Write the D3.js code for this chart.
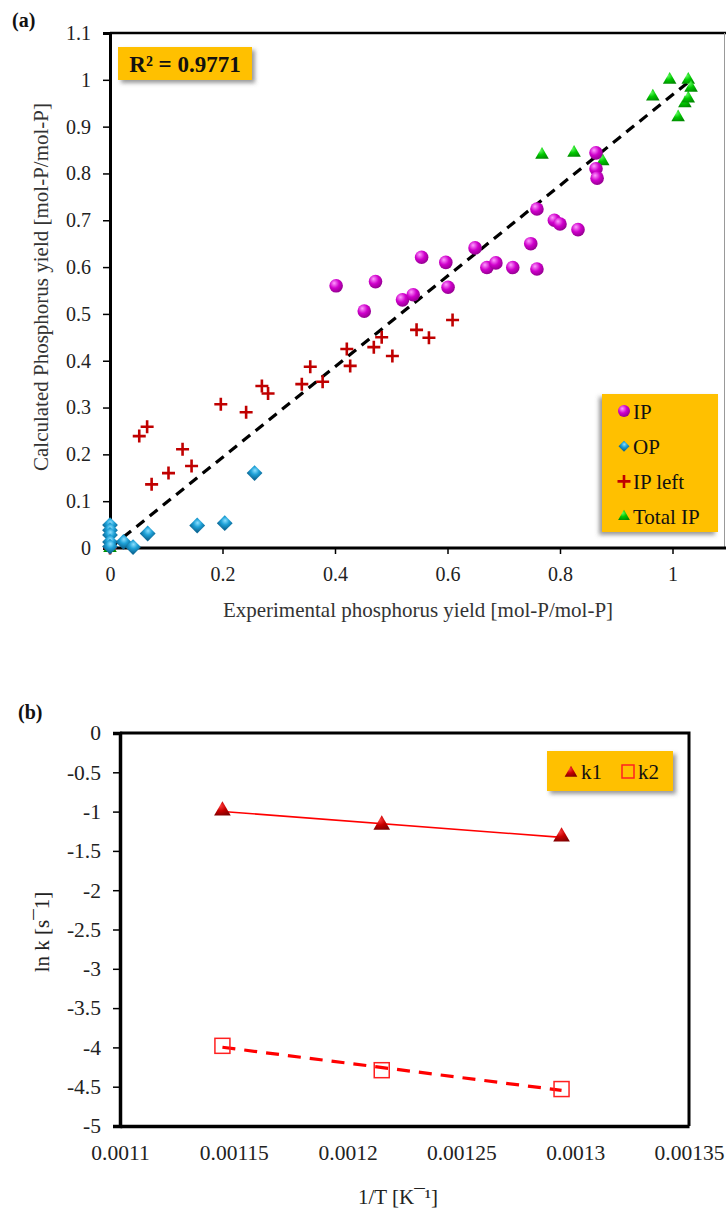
<!DOCTYPE html>
<html>
<head>
<meta charset="utf-8">
<script src="https://cdn.jsdelivr.net/npm/d3@7"></script>
<style>
  body { margin: 0; background: #fff; }
  svg { display: block; font-family: "Liberation Serif", "Times New Roman", serif; }
  .tick text { fill: #222; }
</style>
</head>
<body>
<div id="chart"></div>
<script>
// ---- chart (a) data ----
var ipX   = [0.402, 0.452, 0.472, 0.520, 0.539, 0.554, 0.597, 0.601, 0.649, 0.670, 0.686, 0.716, 0.748, 0.759, 0.759, 0.790, 0.800, 0.832, 0.864, 0.864, 0.866];
var ipY   = [0.560, 0.506, 0.569, 0.530, 0.541, 0.621, 0.610, 0.557, 0.641, 0.599, 0.609, 0.599, 0.650, 0.724, 0.596, 0.700, 0.692, 0.680, 0.844, 0.810, 0.790];
var opX   = [0, 0, 0, 0, 0, 0.024, 0.041, 0.067, 0.155, 0.204, 0.257];
var opY   = [0.049, 0.038, 0.028, 0.013, 0.003, 0.013, 0.002, 0.031, 0.048, 0.053, 0.160];
var leftX = [0, 0.052, 0.066, 0.074, 0.104, 0.129, 0.145, 0.197, 0.242, 0.270, 0.281, 0.341, 0.356, 0.378, 0.421, 0.427, 0.469, 0.483, 0.502, 0.545, 0.567, 0.609];
var leftY = [0, 0.239, 0.259, 0.136, 0.160, 0.211, 0.175, 0.307, 0.290, 0.346, 0.330, 0.350, 0.387, 0.355, 0.425, 0.389, 0.429, 0.450, 0.410, 0.466, 0.449, 0.487];
var totX  = [0, 0.768, 0.825, 0.876, 0.965, 0.995, 1.010, 1.022, 1.028, 1.028, 1.033];
var totY  = [0, 0.840, 0.844, 0.826, 0.964, 1.000, 0.920, 0.950, 1.000, 0.960, 0.983];
var fitX  = [0, 1.028];
var fitY  = [0, 0.995];
var xTicksA = [0, 0.2, 0.4, 0.6, 0.8, 1];
var yTicksA = [0, 0.1, 0.2, 0.3, 0.4, 0.5, 0.6, 0.7, 0.8, 0.9, 1, 1.1];
var legendA = ["IP", "OP", "IP left", "Total IP"];

// ---- chart (b) data ----
var invT = [0.001145, 0.001215, 0.001294];
var k1   = [-0.99, -1.17, -1.32];
var k2   = [-3.98, -4.29, -4.53];
var xTicksB = [0.0011, 0.00115, 0.0012, 0.00125, 0.0013, 0.00135];
var yTicksB = [0, -0.5, -1, -1.5, -2, -2.5, -3, -3.5, -4, -4.5, -5];

var width = 726, height = 1211;
var svg = d3.select('#chart').append('svg')
    .attr('width', width)
    .attr('height', height);

var defs = svg.append('defs');
var shadow = defs.append('filter').attr('id', 'shadow')
    .attr('x', '-20%').attr('y', '-20%').attr('width', '140%').attr('height', '150%');
shadow.append('feDropShadow').attr('dx', 3).attr('dy', 3).attr('stdDeviation', 2)
    .attr('flood-color', '#555').attr('flood-opacity', 0.6);
var shadowL = defs.append('filter').attr('id', 'shadowL')
    .attr('x', '-20%').attr('y', '-20%').attr('width', '140%').attr('height', '150%');
shadowL.append('feDropShadow').attr('dx', -3).attr('dy', 3).attr('stdDeviation', 2)
    .attr('flood-color', '#555').attr('flood-opacity', 0.6);

function radial(id, c0, c1, c2) {
    var g = defs.append('radialGradient').attr('id', id)
        .attr('cx', '40%').attr('cy', '35%').attr('r', '70%').attr('fx', '35%').attr('fy', '30%');
    g.append('stop').attr('offset', '0%').attr('stop-color', c0);
    g.append('stop').attr('offset', '50%').attr('stop-color', c1);
    g.append('stop').attr('offset', '100%').attr('stop-color', c2);
}
radial('gIP', '#ff9cff', '#d000cc', '#8c0088');
radial('gOP', '#8fe0ff', '#1fa2d8', '#0d6a98');
radial('gTot', '#66ff66', '#00c800', '#008a00');
radial('gK1', '#ff4040', '#c80000', '#800000');

var font = '"Liberation Serif", "Times New Roman", serif';

// ================= chart (a) =================
var xA = d3.scaleLinear().domain([0, 1.1]).range([110, 728.75]);
var yA = d3.scaleLinear().domain([0, 1.1]).range([548, 33]);

function zip(xs, ys) { return xs.map(function(d, i){ return [d, ys[i]]; }); }

// frame: top thick, right thin
svg.append('line').attr('x1', xA(0)).attr('x2', width).attr('y1', yA(1.1)).attr('y2', yA(1.1))
    .attr('stroke', '#000').attr('stroke-width', 2.5);
svg.append('line').attr('x1', width - 1.5).attr('x2', width - 1.5).attr('y1', yA(1.1)).attr('y2', yA(0))
    .attr('stroke', '#999').attr('stroke-width', 1);

var axA_x = svg.append('g').attr('transform', 'translate(0,' + yA(0) + ')')
    .call(d3.axisBottom(xA).tickValues(xTicksA).tickFormat(String).tickSizeOuter(0).tickSize(6).tickPadding(13));
var axA_y = svg.append('g').attr('transform', 'translate(' + xA(0) + ',0)')
    .call(d3.axisLeft(yA).tickValues(yTicksA).tickFormat(String).tickSizeOuter(0).tickSize(7).tickPadding(12));
[axA_x, axA_y].forEach(function(g){
    g.select('.domain').attr('stroke', '#000').attr('stroke-width', 3);
    g.selectAll('.tick line').attr('stroke', '#000').attr('stroke-width', 1.5);
    g.selectAll('.tick text').style('font-size', '20px').style('font-family', font);
});
axA_x.select('.domain').attr('d', 'M' + xA(0) + ',0H' + width);

// regression line
svg.append('path')
    .datum(zip(fitX, fitY))
    .attr('d', d3.line().x(function(d){ return xA(d[0]); }).y(function(d){ return yA(d[1]); }))
    .attr('fill', 'none').attr('stroke', '#000').attr('stroke-width', 3.2)
    .attr('stroke-dasharray', '10,7');

// Total IP triangles
svg.append('g').selectAll('path')
    .data(zip(totX, totY)).enter().append('path')
    .attr('d', d3.symbol().type(d3.symbolTriangle).size(80))
    .attr('transform', function(d){ return 'translate(' + xA(d[0]) + ',' + yA(d[1]) + ')'; })
    .attr('fill', 'url(#gTot)');

// IP left crosses
svg.append('g').selectAll('path')
    .data(zip(leftX, leftY)).enter().append('path')
    .attr('d', 'M-6.5,0H6.5M0,-6.5V6.5')
    .attr('transform', function(d){ return 'translate(' + xA(d[0]) + ',' + yA(d[1]) + ')'; })
    .attr('stroke', '#c00000').attr('stroke-width', 2.6).attr('fill', 'none');

// OP diamonds
svg.append('g').selectAll('path')
    .data(zip(opX, opY)).enter().append('path')
    .attr('d', d3.symbol().type(d3.symbolSquare).size(125))
    .attr('transform', function(d){ return 'translate(' + xA(d[0]) + ',' + yA(d[1]) + ') rotate(45)'; })
    .attr('fill', 'url(#gOP)');

// IP spheres
svg.append('g').selectAll('circle')
    .data(zip(ipX, ipY)).enter().append('circle')
    .attr('cx', function(d){ return xA(d[0]); })
    .attr('cy', function(d){ return yA(d[1]); })
    .attr('r', 6.8)
    .attr('fill', 'url(#gIP)');

// R² box
svg.append('rect').attr('x', 118).attr('y', 47).attr('width', 134).attr('height', 33)
    .attr('fill', '#ffc000').attr('filter', 'url(#shadow)');
svg.append('text').attr('x', 185).attr('y', 72)
    .style('text-anchor', 'middle').style('font-size', '23px').style('font-weight', 'bold')
    .attr('fill', '#111').text('R² = 0.9771');

// legend (a)
var legA = svg.append('g');
legA.append('rect').attr('x', 602).attr('y', 394).attr('width', 116).attr('height', 138)
    .attr('fill', '#ffc000').attr('filter', 'url(#shadowL)');
var rowsA = legA.selectAll('g.row').data(legendA).enter().append('g')
    .attr('transform', function(d, i){ return 'translate(624,' + (411 + i * 35.2) + ')'; });
rowsA.append('text').attr('x', 9).attr('y', 7.5)
    .style('font-size', '21px').attr('fill', '#111')
    .text(function(d){ return d; });
rowsA.each(function(d, i){
    var g = d3.select(this);
    if (i === 0) g.append('circle').attr('r', 6).attr('fill', 'url(#gIP)');
    if (i === 1) g.append('path').attr('d', d3.symbol().type(d3.symbolSquare).size(60))
        .attr('transform', 'rotate(45)').attr('fill', 'url(#gOP)');
    if (i === 2) g.append('path').attr('d', 'M-6.5,0H6.5M0,-6.5V6.5')
        .attr('stroke', '#c00000').attr('stroke-width', 2.6);
    if (i === 3) g.append('path').attr('d', d3.symbol().type(d3.symbolTriangle).size(60))
        .attr('fill', 'url(#gTot)');
});

// titles (a)
svg.append('text').attr('x', 12).attr('y', 27)
    .style('font-size', '20px').style('font-weight', 'bold').attr('fill', '#111').text('(a)');
svg.append('text').attr('x', 418).attr('y', 617)
    .style('text-anchor', 'middle').style('font-size', '21px').attr('fill', '#333')
    .text('Experimental phosphorus yield [mol-P/mol-P]');
svg.append('text')
    .attr('transform', 'translate(48,287) rotate(-90)')
    .style('text-anchor', 'middle').style('font-size', '21px').attr('fill', '#333')
    .text('Calculated Phosphorus yield  [mol-P/mol-P]');

// ================= chart (b) =================
var xB = d3.scaleLinear().domain([0.0011, 0.00135]).range([120, 689]);
var yB = d3.scaleLinear().domain([-5, 0]).range([1126, 733]);

svg.append('path')
    .attr('d', 'M' + xB(0.0011) + ',' + yB(0) + 'H' + xB(0.00135) + 'V' + yB(-5))
    .attr('fill', 'none').attr('stroke', '#000').attr('stroke-width', 3);

var axB_x = svg.append('g').attr('transform', 'translate(0,' + yB(-5) + ')')
    .call(d3.axisBottom(xB).tickValues(xTicksB).tickFormat(String).tickSizeOuter(0).tickSize(0).tickPadding(19));
var axB_y = svg.append('g').attr('transform', 'translate(' + xB(0.0011) + ',0)')
    .call(d3.axisLeft(yB).tickValues(yTicksB).tickFormat(String).tickSizeOuter(0).tickSize(7).tickPadding(12));
[axB_x, axB_y].forEach(function(g){
    g.select('.domain').attr('stroke', '#000').attr('stroke-width', 3.5);
    g.selectAll('.tick line').attr('stroke', '#000').attr('stroke-width', 1.5);
    g.selectAll('.tick text').style('font-size', '21.5px').style('font-family', font);
});

// least squares trend line through a series
function trend(xs, ys) {
    var mx = d3.mean(xs), my = d3.mean(ys);
    var b = d3.sum(xs, function(x, i){ return (x - mx) * (ys[i] - my); }) /
            d3.sum(xs, function(x){ return (x - mx) * (x - mx); });
    var x0 = d3.min(xs), x1 = d3.max(xs);
    return [[x0, my + b * (x0 - mx)], [x1, my + b * (x1 - mx)]];
}
var lineB = d3.line().x(function(d){ return xB(d[0]); }).y(function(d){ return yB(d[1]); });

svg.append('path').datum(trend(invT, k1)).attr('d', lineB)
    .attr('fill', 'none').attr('stroke', '#ff0000').attr('stroke-width', 1.6);
svg.append('path').datum(trend(invT, k2)).attr('d', lineB)
    .attr('fill', 'none').attr('stroke', '#ff0000').attr('stroke-width', 3.2)
    .attr('stroke-dasharray', '13,9');

svg.append('g').selectAll('path')
    .data(zip(invT, k1)).enter().append('path')
    .attr('d', d3.symbol().type(d3.symbolTriangle).size(120))
    .attr('transform', function(d){ return 'translate(' + xB(d[0]) + ',' + yB(d[1]) + ')'; })
    .attr('fill', 'url(#gK1)');
svg.append('g').selectAll('rect')
    .data(zip(invT, k2)).enter().append('rect')
    .attr('x', function(d){ return xB(d[0]) - 7.5; })
    .attr('y', function(d){ return yB(d[1]) - 7.5; })
    .attr('width', 15).attr('height', 15)
    .attr('fill', 'none').attr('stroke', '#ff2020').attr('stroke-width', 1.5);

// legend (b)
var legB = svg.append('g');
legB.append('rect').attr('x', 547).attr('y', 751).attr('width', 126).attr('height', 40)
    .attr('fill', '#ffc000').attr('filter', 'url(#shadow)');
legB.append('path').attr('d', d3.symbol().type(d3.symbolTriangle).size(70))
    .attr('transform', 'translate(571,773)').attr('fill', 'url(#gK1)');
legB.append('text').attr('x', 581).attr('y', 779).style('font-size', '21px').attr('fill', '#111').text('k1');
legB.append('rect').attr('x', 622).attr('y', 765).attr('width', 12).attr('height', 13)
    .attr('fill', 'none').attr('stroke', '#ff2020').attr('stroke-width', 1.5);
legB.append('text').attr('x', 638).attr('y', 779).style('font-size', '21px').attr('fill', '#111').text('k2');

// titles (b)
svg.append('text').attr('x', 18).attr('y', 719)
    .style('font-size', '20px').style('font-weight', 'bold').attr('fill', '#111').text('(b)');
svg.append('text').attr('x', 398).attr('y', 1204)
    .style('text-anchor', 'middle').style('font-size', '21px').attr('fill', '#222')
    .text('1/T [K¯¹]');
svg.append('text')
    .attr('transform', 'translate(49,932) rotate(-90)')
    .style('text-anchor', 'middle').style('font-size', '21px').attr('fill', '#222')
    .text('ln k [s¯1]');
</script>
</body>
</html>
